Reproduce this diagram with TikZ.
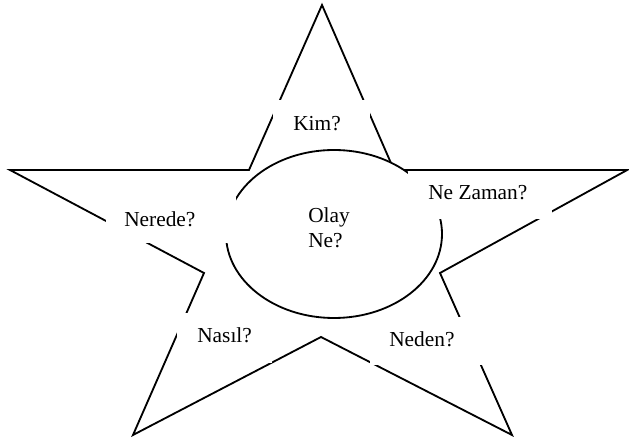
\documentclass[tikz,border=0pt]{standalone}
\usepackage{fontspec}
\setmainfont{Liberation Serif}
\tikzset{
    cizgi/.style={line width=1.3pt},
    kutu/.style={fill=white},
    soru/.style={font=\fontsize{15.2}{17.7}\selectfont, inner sep=0pt, anchor=base west}
}
\begin{document}
\begin{tikzpicture}
    \useasboundingbox (0,0) rectangle (15.725,11.025);
    \draw[cizgi] (8.05,10.9) -- (9.85,6.775) -- (15.68,6.775) -- (11.0,4.2) -- (12.8,0.15) -- (8.025,2.6) -- (3.325,0.15) -- (5.1,4.2) -- (0.25,6.775) -- (6.225,6.775) -- cycle;
    \draw[cizgi, fill=white] (8.35,5.175) ellipse (2.7 and 2.1);
    \fill[kutu] (6.825,7.875) rectangle (9.25,8.525);
    \fill[kutu] (2.65,4.95) rectangle (5.9,6.1);
    \fill[kutu] (10.2,5.55) rectangle (13.8,6.756);
    \fill[kutu] (4.425,1.95) rectangle (6.8,3.2);
    \fill[kutu] (9.25,1.9) rectangle (12.15,3.1);
    \node[soru] (kim) at (7.325,7.75) {Kim?};
    \node[soru] (nerede) at (3.1,5.35) {Nerede?};
    \node[soru] (nezaman) at (10.7,6.025) {Ne Zaman?};
    \node[soru] (nasil) at (4.925,2.45) {Nasıl?};
    \node[soru] (neden) at (9.725,2.35) {Neden?};
    \node[soru, anchor=west, align=left] (olay) at (7.7,5.325) {Olay\\Ne?};
\end{tikzpicture}
\end{document}
